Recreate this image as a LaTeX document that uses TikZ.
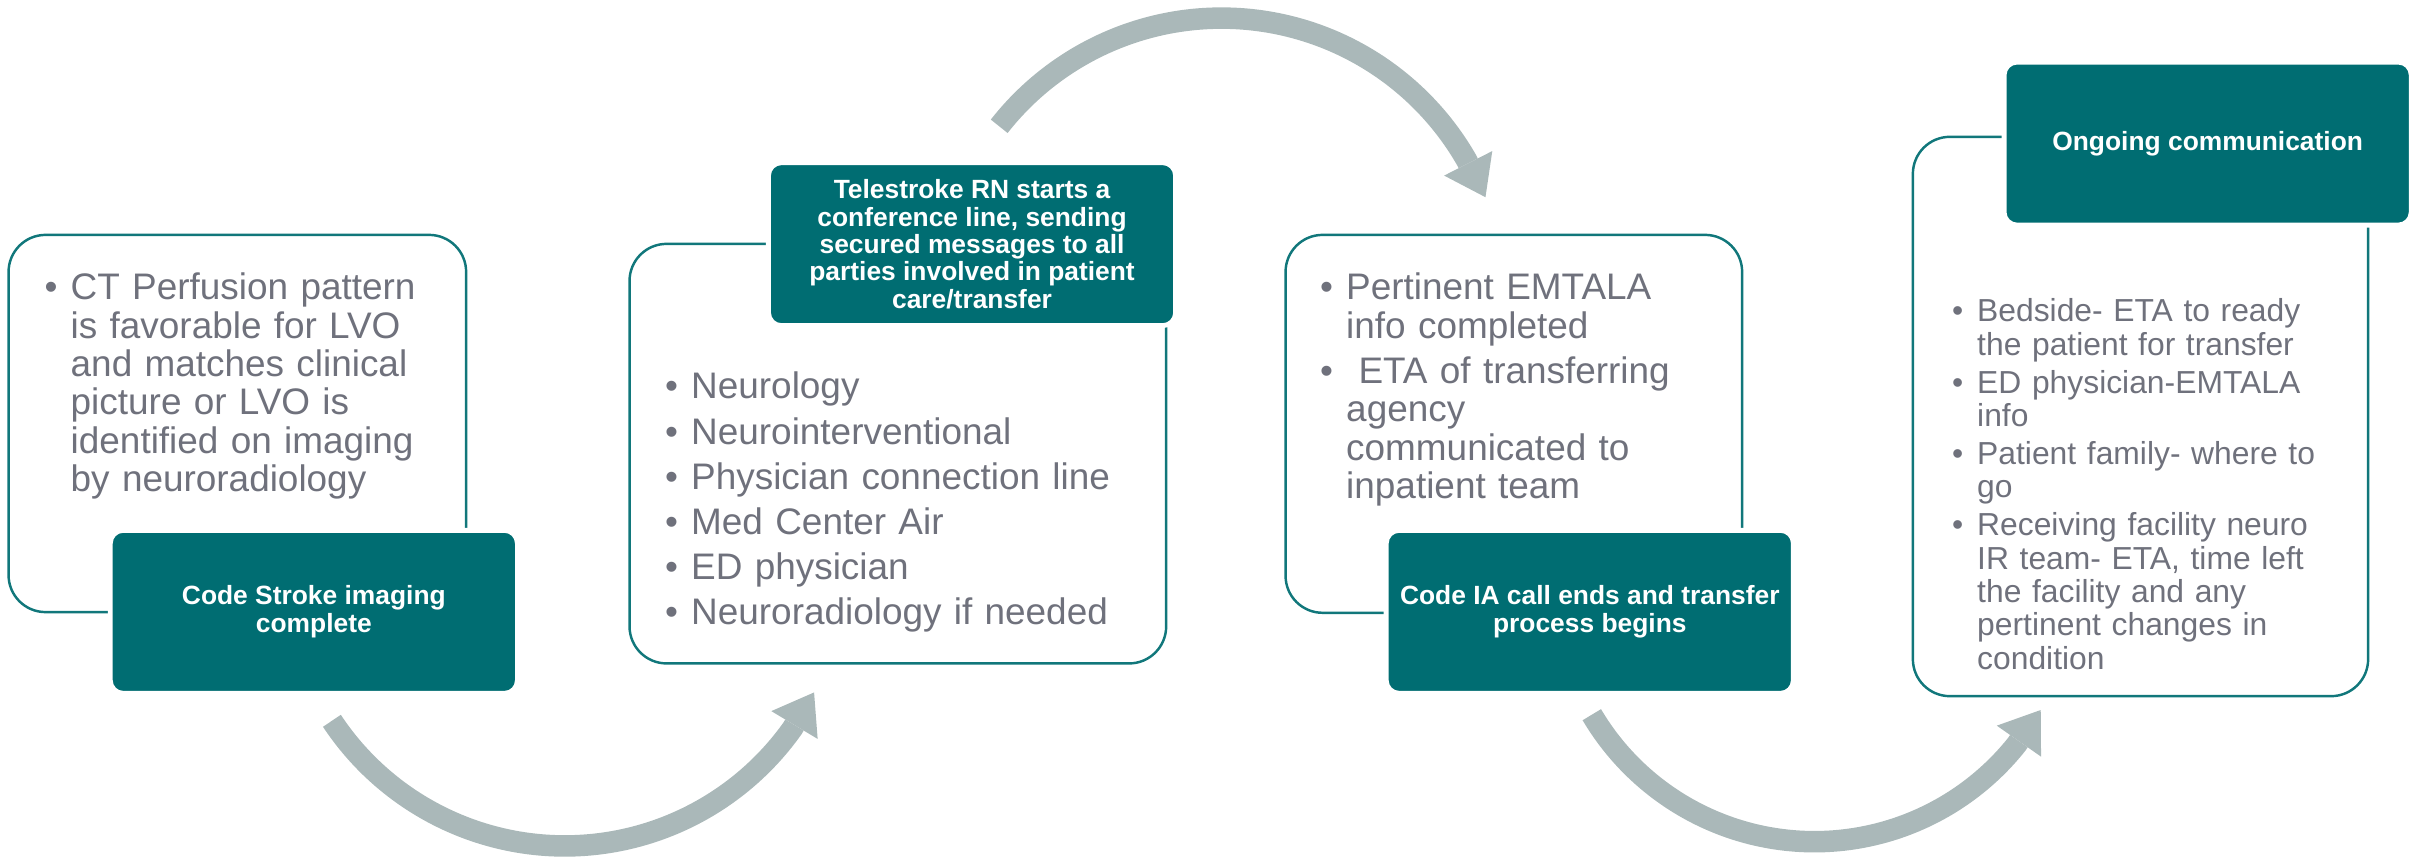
\documentclass[tikz,border=0pt]{standalone}
\usepackage{fontspec}
\setmainfont{Liberation Sans}
\usepackage{tikz}
\usetikzlibrary{arrows.meta,positioning}

\definecolor{boxteal}{HTML}{006D72}
\definecolor{rimteal}{HTML}{11777B}
\definecolor{flowgray}{HTML}{AAB8B9}
\definecolor{notegray}{HTML}{6F717C}

\newlength{\bulind}
\setlength{\bulind}{0.26cm}
\newcommand{\bitem}[1]{\hangindent=\bulind\hangafter=1\noindent
  \makebox[\bulind][l]{\textbullet}#1\par}

\tikzset{
  card/.style    = {draw=rimteal, line width=0.7pt, rounded corners=0.37cm,
                    inner sep=0pt},
  banner/.style  = {draw=white, line width=1.4pt, fill=boxteal,
                    rounded corners=0.13cm, minimum width=4.07cm,
                    minimum height=1.63cm, inner sep=2pt, text=white,
                    align=center, font=\fontsize{7.5}{7.8}\selectfont\bfseries},
  notes/.style   = {anchor=base west, inner sep=0pt, text width=#1,
                    text=notegray, font=\fontsize{10.5}{10.9}\selectfont},
  notes/.default = 4.1cm,
  flow/.style    = {draw=flowgray, line width=2.15mm,
                    -{Triangle[length=3.8mm, width=5.4mm, line width=0pt]}}
}

\begin{document}
\begin{tikzpicture}[x=0.01cm,y=0.01cm]
  \useasboundingbox (0,0) rectangle (2420,860);

  \node[card, minimum width=4.573cm, minimum height=3.77cm]  (imgbox)  at (237.35,436.5)  {};
  \node[card, minimum width=5.363cm, minimum height=4.193cm] (confbox) at (897.85,406.35) {};
  \node[card, minimum width=4.563cm, minimum height=3.777cm] (emtbox)  at (1513.85,436.15) {};
  \node[card, minimum width=4.55cm,  minimum height=5.59cm]  (combox)  at (2140.5,443.5)  {};

  \node[banner] (imghd)  at (313.85,248.15)  {Code Stroke imaging\\complete};
  \node[banner] (confhd) at (972.05,615.85)  {Telestroke RN starts a\\conference line, sending\\secured messages to all\\parties involved in patient\\care/transfer};
  \node[banner] (emthd)  at (1589.8,248.15)  {Code IA call ends and transfer\\process begins};
  \node[banner] (comhd)  at (2207.65,716.4)  {Ongoing communication};

  \node[notes] (imgtxt) at (44,560) {\setlength{\parskip}{1.9pt}%
    \bitem{CT Perfusion pattern\newline is favorable for LVO\newline
      and matches clinical\newline picture or LVO is\newline
      identified on imaging\newline by neuroradiology}};
  \node[notes=5cm] (conftxt) at (664.5,461) {\setlength{\parskip}{1.9pt}%
    \bitem{Neurology}
    \bitem{Neurointerventional}
    \bitem{Physician connection line}
    \bitem{Med Center Air}
    \bitem{ED physician}
    \bitem{Neuroradiology if needed}};
  \node[notes] (emttxt) at (1319.5,560) {\setlength{\parskip}{1.9pt}%
    \bitem{Pertinent EMTALA\newline info completed}
    \bitem{\ ETA of transferring\newline agency\newline
      communicated to\newline inpatient team}};
  \node[notes, font=\fontsize{9.05}{9.5}\selectfont] (comtxt) at (1951.5,538.3)
    {\setlength{\bulind}{0.25cm}\setlength{\parskip}{1.28pt}%
    \bitem{Bedside- ETA to ready\newline the patient for transfer}
    \bitem{ED physician-EMTALA\newline info}
    \bitem{Patient family- where to\newline go}
    \bitem{Receiving facility neuro\newline IR team- ETA, time left\newline
      the facility and any\newline pertinent changes in\newline condition}};

  \coordinate (f1) at (331.9,139.2);
  \coordinate (f2) at (999.2,733.7);
  \coordinate (f3) at (1591.8,145.3);
  \draw[flow] (f1) arc[start angle=213.5, end angle=324.6, radius=279.3] -- ++(59:42);
  \draw[flow] (f2) arc[start angle=141.9, end angle=29.9, radius=282.5] -- ++(-63:42);
  \draw[flow] (f3) arc[start angle=210.6, end angle=321.4, radius=258.7] -- ++(55:42);
\end{tikzpicture}
\end{document}
